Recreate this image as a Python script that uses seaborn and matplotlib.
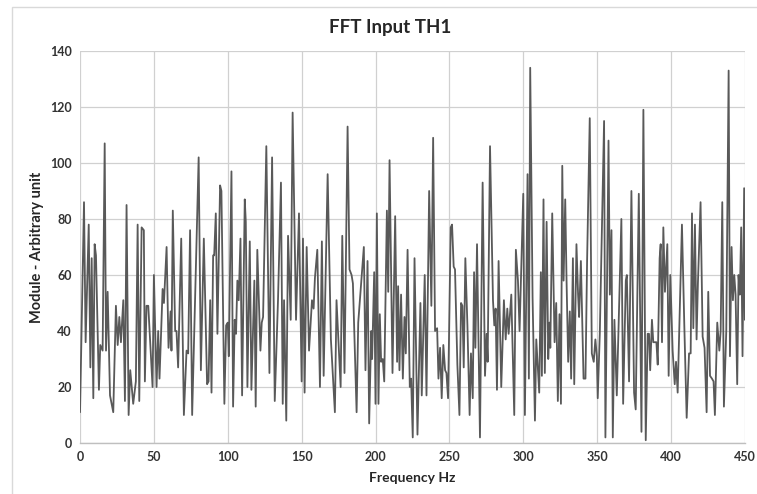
import matplotlib
matplotlib.use("Agg")
import matplotlib.pyplot as plt
import seaborn as sns
import pandas as pd
from matplotlib.patches import Rectangle

# Spectrum of input TH1: frequency bins (Hz) and module (arbitrary unit)
freq_hz = [
    0, 2.7, 3.8, 5.9, 7.0, 7.9, 9.0, 9.9, 10.8, 12.8, 13.7, 15.3, 16.7, 17.6, 18.7, 20.3,
    22.5, 24.3, 25.5, 26.6, 27.7, 29.3, 30.4, 31.5, 32.9, 34.0, 36.0, 37.8, 39.0, 40.1,
    41.7, 43.2, 43.9, 45.0, 46.2, 49.1, 50.0, 51.8, 52.9, 53.8, 55.9, 56.8, 58.6, 59.9,
    61.3, 61.9, 62.8, 64.4, 65.3, 66.4, 68.5, 70.3, 72.1, 73.2, 74.5, 75.9,
    80.3, 81.8, 83.8, 86.0, 87.0, 88.1, 89.0, 90.1, 90.8, 91.9, 93.0, 94.8, 95.7, 97.7,
    98.9, 100.0, 100.7, 102.5, 103.6, 104.7, 105.6, 106.5, 107.4, 108.6, 109.7, 111.5,
    112.2, 113.3, 114.9, 116.0, 118.0, 118.9, 120.0, 122.1, 123.0, 123.9, 126.1, 128.2,
    130.0, 131.8, 134.0, 136.0, 137.2, 138.1, 139.6, 140.8, 142.6, 143.9, 146.2, 148.2,
    150.0, 150.9, 152.0, 153.4, 155.0, 157.0, 158.1, 159.0, 160.6, 162.4, 163.7, 164.9,
    167.6, 169.8, 172.5, 173.6, 176.4, 177.5, 179.0, 181.1, 182.4, 183.8, 184.7, 187.2,
    188.3, 192.1, 193.2, 194.6, 195.7, 197.1, 197.7, 199.1, 200.0, 200.9, 202.0, 202.9,
    203.8, 204.9, 205.9, 207.7, 208.6, 209.5, 211.5, 213.3, 214.6, 215.3, 216.2, 217.3,
    218.5, 219.6, 220.5, 221.7, 223.2,
    224.1, 225.2, 226.4, 228.4, 230.4, 231.3, 233.3, 234.5, 236.3, 237.8, 239.0, 240.3,
    241.7, 242.6, 243.7, 244.8, 245.9, 247.1, 248.0, 249.1, 250.9, 251.8, 252.9, 253.8,
    255.4, 256.8, 257.9, 258.8, 259.7, 260.8, 262.2, 263.7, 264.6, 265.8, 266.7, 267.6,
    268.7, 270.7, 272.5, 274.1, 275.2, 275.9, 277.5, 279.5, 280.4, 281.3, 282.2, 283.3,
    285.1, 286.9, 288.1, 289.2, 290.1, 291.9, 293.9, 295.0, 296.4, 297.5,
    300.0, 301.1, 302.9, 303.8, 304.7, 306.3, 307.9, 308.8, 310.8, 311.9, 312.6, 313.7,
    314.6, 315.8, 316.9, 317.8, 318.3, 319.6, 321.2, 322.3, 323.4, 324.5, 325.5, 326.4,
    327.3, 328.4, 329.3, 330.4, 331.5, 332.4, 333.6, 334.5, 336.0, 337.1, 337.8, 339.0,
    340.8, 342.1, 343.2, 345.0, 346.4, 347.7, 348.8, 349.8, 350.4, 351.8, 354.7, 355.6,
    357.7, 358.6, 359.7, 360.6, 361.7, 363.3, 366.4, 367.6, 369.4,
    370.1, 371.6, 373.2, 375.0, 376.1, 378.2, 380.0, 381.3, 382.9, 384.2, 385.1, 385.9,
    387.1, 388.0, 390.1, 391.0, 392.3, 393.0, 393.9, 394.8, 395.9, 397.5, 398.4, 399.5,
    401.1, 402.5, 403.4, 404.5, 407.4, 409.0, 410.6, 412.2, 413.3, 414.2, 415.1, 416.2,
    417.3, 418.2, 420.0, 421.4, 422.7, 424.1, 425.2, 426.4, 427.7, 428.8, 429.7, 431.3,
    432.7, 433.6, 434.7, 435.8, 437.4, 439.0, 439.9, 441.0, 441.9, 442.8, 443.7, 444.8,
    445.7, 446.6, 447.5, 448.4, 449.5, 450.0,
]

module = [
    11, 86, 36, 78, 27, 66, 16, 71, 67, 19, 35, 33, 107, 33, 54, 17,
    11, 49, 35, 45, 36, 51, 15, 85, 10, 26, 14, 22, 78, 15,
    77, 76, 22, 49, 49, 20, 60, 20, 40, 23, 55, 50, 70, 34,
    47, 33, 83, 40, 40, 27, 73, 10, 33, 32, 76, 10,
    102, 26, 73, 21, 22, 51, 18, 67, 67, 82, 39, 92, 90, 14,
    42, 43, 31, 97, 13, 44, 39, 58, 51, 73, 17, 87,
    79, 20, 72, 19, 58, 13, 69, 33, 43, 45, 106, 25,
    102, 15, 51, 93, 14, 51, 8, 74, 44, 118, 44, 82,
    22, 73, 18, 70, 33, 51, 48, 59, 69, 20, 72, 24,
    96, 37, 11, 51, 20, 74, 25, 113, 62, 60, 57, 11,
    43, 70, 26, 65, 7, 40, 30, 61, 14, 82, 14, 46,
    29, 30, 22, 83, 54, 101, 25, 81, 29, 56, 26, 53,
    23, 45, 32, 69, 20,
    23, 2, 66, 3, 50, 17, 60, 17, 90, 49, 109, 40,
    41, 23, 34, 16, 35, 26, 25, 16, 77, 78, 63, 62,
    28, 10, 50, 49, 27, 66, 42, 10, 32, 16, 61, 34,
    71, 2, 93, 24, 39, 29, 106, 51, 42, 48, 19, 65,
    20, 51, 37, 48, 39, 53, 10, 69, 58, 40,
    89, 10, 96, 23, 134, 52, 8, 37, 18, 61, 24, 87,
    25, 79, 30, 43, 34, 82, 36, 50, 15, 46, 14, 99,
    58, 87, 58, 29, 47, 23, 66, 21, 71, 53, 45, 65,
    23, 23, 65, 116, 32, 29, 37, 31, 16, 39, 115, 2,
    108, 53, 76, 2, 44, 17, 80, 14, 58,
    60, 22, 90, 18, 12, 89, 4, 119, 1, 39, 39, 26,
    44, 36, 36, 28, 66, 71, 36, 77, 54, 71, 24, 60,
    33, 21, 29, 18, 78, 42, 9, 32, 32, 82, 41, 78,
    37, 57, 86, 38, 34, 11, 54, 24, 23, 22, 10, 43,
    33, 40, 86, 13, 40, 133, 31, 70, 51, 60, 53, 21,
    60, 53, 77, 31, 91, 44,
]

x_ticks = [0, 50, 100, 150, 200, 250, 300, 350, 400, 450]
y_ticks = [0, 20, 40, 60, 80, 100, 120, 140]

df = pd.DataFrame({"Frequency Hz": freq_hz, "Module": module})

sns.set_theme(style="white")
plt.rcParams["font.family"] = ["Lato", "DejaVu Sans"]

fig = plt.figure(figsize=(7.57, 4.94), dpi=100)
ax = fig.add_axes([0.1057, 0.1032, 0.8783, 0.7936])

sns.lineplot(data=df, x="Frequency Hz", y="Module", ax=ax,
             color="#595959", linewidth=1.3, sort=False, estimator=None)

ax.set_xlim(0, 450)
ax.set_ylim(0, 140)
ax.set_xticks(x_ticks)
ax.set_yticks(y_ticks)

ax.grid(True, color="#d0d0d0", linewidth=0.9)
ax.set_axisbelow(True)
for side in ["top", "right", "left"]:
    ax.spines[side].set_visible(False)
ax.spines["bottom"].set_color("#bfbfbf")
ax.spines["bottom"].set_linewidth(1.0)
ax.tick_params(axis="both", length=0, labelsize=9, colors="#333333", pad=6)
for lbl in ax.get_xticklabels() + ax.get_yticklabels():
    lbl.set_fontweight("bold")

ax.set_xlabel("Frequency Hz", fontsize=10, fontweight="bold", color="#262626", labelpad=6)
ax.set_ylabel("Module - Arbitrary unit", fontsize=10.5, fontweight="bold", color="#262626", labelpad=4)
fig.suptitle("FFT Input TH1", x=0.515, y=0.962, fontsize=13.5, fontweight="bold", color="#262626")

# Chart-area frame
fig.patches.append(Rectangle((12 / 757, -0.05), 1.0, 1 - 7 / 494 + 0.05,
                             transform=fig.transFigure, fill=False,
                             edgecolor="#d9d9d9", linewidth=1.0))

fig.savefig("out.png", dpi=100, facecolor="white")
